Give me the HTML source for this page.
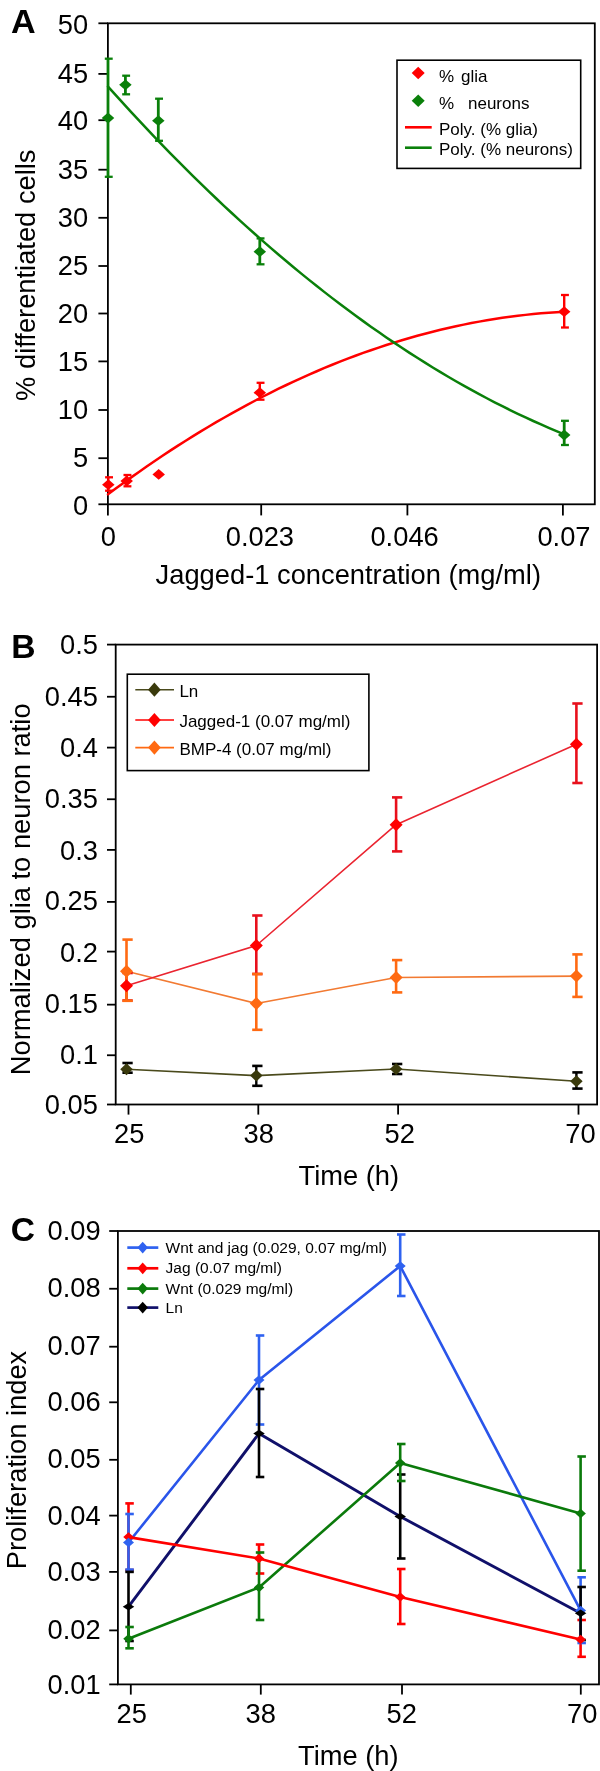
<!DOCTYPE html>
<html><head><meta charset="utf-8"><style>
html,body{margin:0;padding:0;background:#fff;}
body{width:600px;height:1771px;overflow:hidden;}
svg{display:block;will-change:transform;}
text{font-family:"Liberation Sans", sans-serif;}
</style></head><body>
<svg width="600" height="1771" viewBox="0 0 600 1771">
<rect width="600" height="1771" fill="#fff"/>
<rect x="107.9" y="23.3" width="486.9" height="481" fill="none" stroke="#000" stroke-width="1.8"/>
<line x1="98.4" y1="23.3" x2="107.9" y2="23.3" stroke="#000" stroke-width="1.8" stroke-linecap="butt"/>
<text x="88.2" y="34.1" font-size="27.3" text-anchor="end" font-weight="normal" fill="#000">50</text>
<line x1="98.4" y1="73.9" x2="107.9" y2="73.9" stroke="#000" stroke-width="1.8" stroke-linecap="butt"/>
<text x="88.2" y="82.85" font-size="27.3" text-anchor="end" font-weight="normal" fill="#000">45</text>
<line x1="98.4" y1="120.2" x2="107.9" y2="120.2" stroke="#000" stroke-width="1.8" stroke-linecap="butt"/>
<text x="88.2" y="130" font-size="27.3" text-anchor="end" font-weight="normal" fill="#000">40</text>
<line x1="98.4" y1="169.7" x2="107.9" y2="169.7" stroke="#000" stroke-width="1.8" stroke-linecap="butt"/>
<text x="88.2" y="179.35" font-size="27.3" text-anchor="end" font-weight="normal" fill="#000">35</text>
<line x1="98.4" y1="217.8" x2="107.9" y2="217.8" stroke="#000" stroke-width="1.8" stroke-linecap="butt"/>
<text x="88.2" y="226.5" font-size="27.3" text-anchor="end" font-weight="normal" fill="#000">30</text>
<line x1="98.4" y1="266" x2="107.9" y2="266" stroke="#000" stroke-width="1.8" stroke-linecap="butt"/>
<text x="88.2" y="274.5" font-size="27.3" text-anchor="end" font-weight="normal" fill="#000">25</text>
<line x1="98.4" y1="313.5" x2="107.9" y2="313.5" stroke="#000" stroke-width="1.8" stroke-linecap="butt"/>
<text x="88.2" y="323.15" font-size="27.3" text-anchor="end" font-weight="normal" fill="#000">20</text>
<line x1="98.4" y1="361.4" x2="107.9" y2="361.4" stroke="#000" stroke-width="1.8" stroke-linecap="butt"/>
<text x="88.2" y="371" font-size="27.3" text-anchor="end" font-weight="normal" fill="#000">15</text>
<line x1="98.4" y1="410" x2="107.9" y2="410" stroke="#000" stroke-width="1.8" stroke-linecap="butt"/>
<text x="88.2" y="418.95" font-size="27.3" text-anchor="end" font-weight="normal" fill="#000">10</text>
<line x1="98.4" y1="458.2" x2="107.9" y2="458.2" stroke="#000" stroke-width="1.8" stroke-linecap="butt"/>
<text x="88.2" y="466.9" font-size="27.3" text-anchor="end" font-weight="normal" fill="#000">5</text>
<line x1="98.4" y1="504.3" x2="107.9" y2="504.3" stroke="#000" stroke-width="1.8" stroke-linecap="butt"/>
<text x="88.2" y="515.1" font-size="27.3" text-anchor="end" font-weight="normal" fill="#000">0</text>
<line x1="107.9" y1="504.3" x2="107.9" y2="515.4" stroke="#000" stroke-width="1.8" stroke-linecap="butt"/>
<text x="108.4" y="545.6" font-size="27.3" text-anchor="middle" font-weight="normal" fill="#000">0</text>
<line x1="261.2" y1="504.3" x2="261.2" y2="515.4" stroke="#000" stroke-width="1.8" stroke-linecap="butt"/>
<text x="259.9" y="545.6" font-size="27.3" text-anchor="middle" font-weight="normal" fill="#000">0.023</text>
<line x1="407.4" y1="504.3" x2="407.4" y2="515.4" stroke="#000" stroke-width="1.8" stroke-linecap="butt"/>
<text x="404.6" y="545.6" font-size="27.3" text-anchor="middle" font-weight="normal" fill="#000">0.046</text>
<line x1="562.9" y1="504.3" x2="562.9" y2="515.4" stroke="#000" stroke-width="1.8" stroke-linecap="butt"/>
<text x="564" y="545.6" font-size="27.3" text-anchor="middle" font-weight="normal" fill="#000">0.07</text>
<text x="348.3" y="584.2" font-size="27.3" text-anchor="middle" font-weight="normal" fill="#000">Jagged-1 concentration (mg/ml)</text>
<text x="35.2" y="275.2" font-size="27.3" text-anchor="middle" font-weight="normal" fill="#000" transform="rotate(-90 35.2 275.2)">% differentiated cells</text>
<text x="0" y="0" font-size="33.5" text-anchor="start" font-weight="bold" fill="#000" transform="translate(11 33) scale(1.02 1)">A</text>
<line x1="108" y1="58.7" x2="108" y2="176.8" stroke="#0a800a" stroke-width="2.8" stroke-linecap="butt"/>
<line x1="104.8" y1="58.7" x2="112.7" y2="58.7" stroke="#0a800a" stroke-width="2.3" stroke-linecap="butt"/>
<line x1="104.8" y1="176.8" x2="112.7" y2="176.8" stroke="#0a800a" stroke-width="2.3" stroke-linecap="butt"/>
<line x1="125.4" y1="75.7" x2="125.4" y2="94.3" stroke="#0a800a" stroke-width="2.8" stroke-linecap="butt"/>
<line x1="122.2" y1="75.7" x2="130.1" y2="75.7" stroke="#0a800a" stroke-width="2.3" stroke-linecap="butt"/>
<line x1="122.2" y1="94.3" x2="130.1" y2="94.3" stroke="#0a800a" stroke-width="2.3" stroke-linecap="butt"/>
<line x1="158.3" y1="98.7" x2="158.3" y2="140.8" stroke="#0a800a" stroke-width="2.8" stroke-linecap="butt"/>
<line x1="155.1" y1="98.7" x2="163" y2="98.7" stroke="#0a800a" stroke-width="2.3" stroke-linecap="butt"/>
<line x1="155.1" y1="140.8" x2="163" y2="140.8" stroke="#0a800a" stroke-width="2.3" stroke-linecap="butt"/>
<line x1="259.8" y1="238.4" x2="259.8" y2="264.3" stroke="#0a800a" stroke-width="2.8" stroke-linecap="butt"/>
<line x1="256.6" y1="238.4" x2="264.5" y2="238.4" stroke="#0a800a" stroke-width="2.3" stroke-linecap="butt"/>
<line x1="256.6" y1="264.3" x2="264.5" y2="264.3" stroke="#0a800a" stroke-width="2.3" stroke-linecap="butt"/>
<line x1="564.2" y1="420.8" x2="564.2" y2="445" stroke="#0a800a" stroke-width="2.8" stroke-linecap="butt"/>
<line x1="561" y1="420.8" x2="568.9" y2="420.8" stroke="#0a800a" stroke-width="2.3" stroke-linecap="butt"/>
<line x1="561" y1="445" x2="568.9" y2="445" stroke="#0a800a" stroke-width="2.3" stroke-linecap="butt"/>
<line x1="108.3" y1="477.3" x2="108.3" y2="490.7" stroke="#ff0000" stroke-width="2.4" stroke-linecap="butt"/>
<line x1="105.1" y1="477.3" x2="113" y2="477.3" stroke="#ff0000" stroke-width="2.3" stroke-linecap="butt"/>
<line x1="105.1" y1="490.7" x2="113" y2="490.7" stroke="#ff0000" stroke-width="2.3" stroke-linecap="butt"/>
<line x1="126.7" y1="475" x2="126.7" y2="486.3" stroke="#ff0000" stroke-width="2.4" stroke-linecap="butt"/>
<line x1="123.5" y1="475" x2="131.4" y2="475" stroke="#ff0000" stroke-width="2.3" stroke-linecap="butt"/>
<line x1="123.5" y1="486.3" x2="131.4" y2="486.3" stroke="#ff0000" stroke-width="2.3" stroke-linecap="butt"/>
<line x1="259.8" y1="382.8" x2="259.8" y2="399.7" stroke="#ff0000" stroke-width="2.4" stroke-linecap="butt"/>
<line x1="256.6" y1="382.8" x2="264.5" y2="382.8" stroke="#ff0000" stroke-width="2.3" stroke-linecap="butt"/>
<line x1="256.6" y1="399.7" x2="264.5" y2="399.7" stroke="#ff0000" stroke-width="2.3" stroke-linecap="butt"/>
<line x1="564.2" y1="295" x2="564.2" y2="327.5" stroke="#ff0000" stroke-width="2.4" stroke-linecap="butt"/>
<line x1="561" y1="295" x2="568.9" y2="295" stroke="#ff0000" stroke-width="2.3" stroke-linecap="butt"/>
<line x1="561" y1="327.5" x2="568.9" y2="327.5" stroke="#ff0000" stroke-width="2.3" stroke-linecap="butt"/>
<polyline points="108,494.35 115.73,488.6 123.46,482.94 131.2,477.38 138.93,471.9 146.66,466.52 154.39,461.22 162.13,456.02 169.86,450.91 177.59,445.89 185.32,440.97 193.05,436.13 200.79,431.39 208.52,426.74 216.25,422.18 223.98,417.71 231.72,413.33 239.45,409.04 247.18,404.85 254.91,400.75 262.64,396.74 270.38,392.82 278.11,388.99 285.84,385.25 293.57,381.61 301.31,378.06 309.04,374.6 316.77,371.23 324.5,367.95 332.23,364.76 339.97,361.67 347.7,358.67 355.43,355.75 363.16,352.93 370.89,350.21 378.63,347.57 386.36,345.02 394.09,342.57 401.82,340.21 409.56,337.94 417.29,335.76 425.02,333.67 432.75,331.68 440.48,329.77 448.22,327.96 455.95,326.24 463.68,324.61 471.41,323.08 479.15,321.63 486.88,320.28 494.61,319.01 502.34,317.84 510.07,316.76 517.81,315.78 525.54,314.88 533.27,314.07 541,313.36 548.74,312.74 556.47,312.21 564.2,311.77" fill="none" stroke="#ff0000" stroke-width="2.5" stroke-linejoin="round" stroke-linecap="round"/>
<polyline points="108,86.58 115.73,95.18 123.46,103.69 131.2,112.1 138.93,120.43 146.66,128.65 154.39,136.79 162.13,144.83 169.86,152.78 177.59,160.63 185.32,168.4 193.05,176.06 200.79,183.64 208.52,191.12 216.25,198.51 223.98,205.8 231.72,213 239.45,220.11 247.18,227.13 254.91,234.05 262.64,240.87 270.38,247.61 278.11,254.25 285.84,260.8 293.57,267.25 301.31,273.61 309.04,279.88 316.77,286.05 324.5,292.13 332.23,298.12 339.97,304.01 347.7,309.81 355.43,315.52 363.16,321.13 370.89,326.65 378.63,332.08 386.36,337.41 394.09,342.65 401.82,347.8 409.56,352.85 417.29,357.81 425.02,362.68 432.75,367.45 440.48,372.13 448.22,376.72 455.95,381.21 463.68,385.61 471.41,389.92 479.15,394.13 486.88,398.25 494.61,402.27 502.34,406.21 510.07,410.04 517.81,413.79 525.54,417.44 533.27,421 541,424.47 548.74,427.84 556.47,431.12 564.2,434.3" fill="none" stroke="#0a800a" stroke-width="2.5" stroke-linejoin="round" stroke-linecap="round"/>
<polygon points="108,112.6 114.25,118 108,123.4 101.75,118" fill="#0a800a"/>
<polygon points="125.4,79.4 131.65,84.8 125.4,90.2 119.15,84.8" fill="#0a800a"/>
<polygon points="158.3,115.3 164.55,120.7 158.3,126.1 152.05,120.7" fill="#0a800a"/>
<polygon points="259.8,246.3 266.05,251.7 259.8,257.1 253.55,251.7" fill="#0a800a"/>
<polygon points="564.2,429.6 570.45,435 564.2,440.4 557.95,435" fill="#0a800a"/>
<polygon points="108.3,479.3 114.55,484.7 108.3,490.1 102.05,484.7" fill="#ff0000"/>
<polygon points="126.7,475.6 132.95,481 126.7,486.4 120.45,481" fill="#ff0000"/>
<polygon points="158.7,469 164.95,474.4 158.7,479.8 152.45,474.4" fill="#ff0000"/>
<polygon points="259.8,387.3 266.05,392.7 259.8,398.1 253.55,392.7" fill="#ff0000"/>
<polygon points="564.2,306.3 570.45,311.7 564.2,317.1 557.95,311.7" fill="#ff0000"/>
<rect x="397" y="60.2" width="183.7" height="108.2" fill="#fff" stroke="#000" stroke-width="1.6"/>
<polygon points="418.2,66.75 424.7,73 418.2,79.25 411.7,73" fill="#ff0000"/>
<polygon points="418.2,94.55 424.7,100.8 418.2,107.05 411.7,100.8" fill="#0a800a"/>
<text x="439" y="81.6" font-size="17" text-anchor="start" font-weight="normal" fill="#000">%</text>
<text x="461" y="81.6" font-size="17" text-anchor="start" font-weight="normal" fill="#000">glia</text>
<text x="439" y="109.2" font-size="17" text-anchor="start" font-weight="normal" fill="#000">%</text>
<text x="468" y="109.2" font-size="17" text-anchor="start" font-weight="normal" fill="#000">neurons</text>
<line x1="405" y1="127.3" x2="431.7" y2="127.3" stroke="#ff0000" stroke-width="2.6" stroke-linecap="butt"/>
<line x1="405" y1="147.7" x2="431.7" y2="147.7" stroke="#0a800a" stroke-width="2.6" stroke-linecap="butt"/>
<text x="439" y="135" font-size="17" text-anchor="start" font-weight="normal" fill="#000">Poly. (% glia)</text>
<text x="439" y="155.2" font-size="17" text-anchor="start" font-weight="normal" fill="#000">Poly. (% neurons)</text>
<rect x="115.7" y="644.6" width="481.4" height="459.9" fill="none" stroke="#000" stroke-width="1.8"/>
<line x1="107" y1="644.6" x2="115.7" y2="644.6" stroke="#000" stroke-width="1.8" stroke-linecap="butt"/>
<text x="98" y="653.8" font-size="27.3" text-anchor="end" font-weight="normal" fill="#000">0.5</text>
<line x1="107" y1="696.75" x2="115.7" y2="696.75" stroke="#000" stroke-width="1.8" stroke-linecap="butt"/>
<text x="98" y="705.6" font-size="27.3" text-anchor="end" font-weight="normal" fill="#000">0.45</text>
<line x1="107" y1="747.6" x2="115.7" y2="747.6" stroke="#000" stroke-width="1.8" stroke-linecap="butt"/>
<text x="98" y="756.7" font-size="27.3" text-anchor="end" font-weight="normal" fill="#000">0.4</text>
<line x1="107" y1="799.25" x2="115.7" y2="799.25" stroke="#000" stroke-width="1.8" stroke-linecap="butt"/>
<text x="98" y="807.5" font-size="27.3" text-anchor="end" font-weight="normal" fill="#000">0.35</text>
<line x1="107" y1="849.9" x2="115.7" y2="849.9" stroke="#000" stroke-width="1.8" stroke-linecap="butt"/>
<text x="98" y="860" font-size="27.3" text-anchor="end" font-weight="normal" fill="#000">0.3</text>
<line x1="107" y1="901.9" x2="115.7" y2="901.9" stroke="#000" stroke-width="1.8" stroke-linecap="butt"/>
<text x="98" y="909.9" font-size="27.3" text-anchor="end" font-weight="normal" fill="#000">0.25</text>
<line x1="107" y1="951.6" x2="115.7" y2="951.6" stroke="#000" stroke-width="1.8" stroke-linecap="butt"/>
<text x="98" y="961.7" font-size="27.3" text-anchor="end" font-weight="normal" fill="#000">0.2</text>
<line x1="107" y1="1004.65" x2="115.7" y2="1004.65" stroke="#000" stroke-width="1.8" stroke-linecap="butt"/>
<text x="98" y="1012.5" font-size="27.3" text-anchor="end" font-weight="normal" fill="#000">0.15</text>
<line x1="107" y1="1055.25" x2="115.7" y2="1055.25" stroke="#000" stroke-width="1.8" stroke-linecap="butt"/>
<text x="98" y="1064.1" font-size="27.3" text-anchor="end" font-weight="normal" fill="#000">0.1</text>
<line x1="107" y1="1104.5" x2="115.7" y2="1104.5" stroke="#000" stroke-width="1.8" stroke-linecap="butt"/>
<text x="98" y="1113.5" font-size="27.3" text-anchor="end" font-weight="normal" fill="#000">0.05</text>
<line x1="128.5" y1="1104.5" x2="128.5" y2="1114.6" stroke="#000" stroke-width="1.8" stroke-linecap="butt"/>
<text x="129.2" y="1143.3" font-size="27.3" text-anchor="middle" font-weight="normal" fill="#000">25</text>
<line x1="258.3" y1="1104.5" x2="258.3" y2="1114.6" stroke="#000" stroke-width="1.8" stroke-linecap="butt"/>
<text x="258.7" y="1143.3" font-size="27.3" text-anchor="middle" font-weight="normal" fill="#000">38</text>
<line x1="398.1" y1="1104.5" x2="398.1" y2="1114.6" stroke="#000" stroke-width="1.8" stroke-linecap="butt"/>
<text x="399.7" y="1143.3" font-size="27.3" text-anchor="middle" font-weight="normal" fill="#000">52</text>
<line x1="578.5" y1="1104.5" x2="578.5" y2="1114.6" stroke="#000" stroke-width="1.8" stroke-linecap="butt"/>
<text x="580.4" y="1143.3" font-size="27.3" text-anchor="middle" font-weight="normal" fill="#000">70</text>
<text x="348.8" y="1184.5" font-size="27.3" text-anchor="middle" font-weight="normal" fill="#000">Time (h)</text>
<text x="29.6" y="889.3" font-size="27.3" text-anchor="middle" font-weight="normal" fill="#000" transform="rotate(-90 29.6 889.3)">Normalized glia to neuron ratio</text>
<text x="0" y="0" font-size="33.0" text-anchor="start" font-weight="bold" fill="#000" transform="translate(11.3 657.6) scale(1.02 1)">B</text>
<polyline points="126.5,1069.3 256.3,1075.6 396.1,1069 576.4,1081.3" fill="none" stroke="#4a4a1c" stroke-width="1.6" stroke-linejoin="round" stroke-linecap="round"/>
<polyline points="126.5,971.3 256.3,1003.5 396.1,977.5 576.4,976.1" fill="none" stroke="#f27a32" stroke-width="1.6" stroke-linejoin="round" stroke-linecap="round"/>
<polyline points="126.5,985.8 256.3,945.5 396.1,824.7 576.4,744.2" fill="none" stroke="#ea2430" stroke-width="1.6" stroke-linejoin="round" stroke-linecap="round"/>
<line x1="126.5" y1="1063" x2="126.5" y2="1072.7" stroke="#000" stroke-width="2.4" stroke-linecap="butt"/>
<line x1="122.4" y1="1063" x2="132.7" y2="1063" stroke="#000" stroke-width="2.6" stroke-linecap="butt"/>
<line x1="122.4" y1="1072.7" x2="132.7" y2="1072.7" stroke="#000" stroke-width="2.6" stroke-linecap="butt"/>
<line x1="256.3" y1="1065.9" x2="256.3" y2="1085.8" stroke="#000" stroke-width="2.4" stroke-linecap="butt"/>
<line x1="252.2" y1="1065.9" x2="262.5" y2="1065.9" stroke="#000" stroke-width="2.6" stroke-linecap="butt"/>
<line x1="252.2" y1="1085.8" x2="262.5" y2="1085.8" stroke="#000" stroke-width="2.6" stroke-linecap="butt"/>
<line x1="396.1" y1="1064" x2="396.1" y2="1074" stroke="#000" stroke-width="2.4" stroke-linecap="butt"/>
<line x1="392" y1="1064" x2="402.3" y2="1064" stroke="#000" stroke-width="2.6" stroke-linecap="butt"/>
<line x1="392" y1="1074" x2="402.3" y2="1074" stroke="#000" stroke-width="2.6" stroke-linecap="butt"/>
<line x1="576.4" y1="1072.4" x2="576.4" y2="1088.6" stroke="#000" stroke-width="2.4" stroke-linecap="butt"/>
<line x1="572.3" y1="1072.4" x2="582.6" y2="1072.4" stroke="#000" stroke-width="2.6" stroke-linecap="butt"/>
<line x1="572.3" y1="1088.6" x2="582.6" y2="1088.6" stroke="#000" stroke-width="2.6" stroke-linecap="butt"/>
<line x1="126.5" y1="973" x2="126.5" y2="1000.5" stroke="#e8101c" stroke-width="2.6" stroke-linecap="butt"/>
<line x1="122.4" y1="973" x2="132.7" y2="973" stroke="#e8101c" stroke-width="2.6" stroke-linecap="butt"/>
<line x1="122.4" y1="1000.5" x2="132.7" y2="1000.5" stroke="#e8101c" stroke-width="2.6" stroke-linecap="butt"/>
<line x1="256.3" y1="915.5" x2="256.3" y2="974" stroke="#e8101c" stroke-width="2.6" stroke-linecap="butt"/>
<line x1="252.2" y1="915.5" x2="262.5" y2="915.5" stroke="#e8101c" stroke-width="2.6" stroke-linecap="butt"/>
<line x1="252.2" y1="974" x2="262.5" y2="974" stroke="#e8101c" stroke-width="2.6" stroke-linecap="butt"/>
<line x1="396.1" y1="797.4" x2="396.1" y2="851.4" stroke="#e8101c" stroke-width="2.6" stroke-linecap="butt"/>
<line x1="392" y1="797.4" x2="402.3" y2="797.4" stroke="#e8101c" stroke-width="2.6" stroke-linecap="butt"/>
<line x1="392" y1="851.4" x2="402.3" y2="851.4" stroke="#e8101c" stroke-width="2.6" stroke-linecap="butt"/>
<line x1="576.4" y1="703.5" x2="576.4" y2="783" stroke="#e8101c" stroke-width="2.6" stroke-linecap="butt"/>
<line x1="572.3" y1="703.5" x2="582.6" y2="703.5" stroke="#e8101c" stroke-width="2.6" stroke-linecap="butt"/>
<line x1="572.3" y1="783" x2="582.6" y2="783" stroke="#e8101c" stroke-width="2.6" stroke-linecap="butt"/>
<line x1="126.5" y1="939.6" x2="126.5" y2="1000.8" stroke="#ff6a12" stroke-width="2.6" stroke-linecap="butt"/>
<line x1="122.4" y1="939.6" x2="132.7" y2="939.6" stroke="#ff6a12" stroke-width="2.6" stroke-linecap="butt"/>
<line x1="122.4" y1="1000.8" x2="132.7" y2="1000.8" stroke="#ff6a12" stroke-width="2.6" stroke-linecap="butt"/>
<line x1="256.3" y1="974" x2="256.3" y2="1029.8" stroke="#ff6a12" stroke-width="2.6" stroke-linecap="butt"/>
<line x1="252.2" y1="974" x2="262.5" y2="974" stroke="#ff6a12" stroke-width="2.6" stroke-linecap="butt"/>
<line x1="252.2" y1="1029.8" x2="262.5" y2="1029.8" stroke="#ff6a12" stroke-width="2.6" stroke-linecap="butt"/>
<line x1="396.1" y1="960.1" x2="396.1" y2="992.4" stroke="#ff6a12" stroke-width="2.6" stroke-linecap="butt"/>
<line x1="392" y1="960.1" x2="402.3" y2="960.1" stroke="#ff6a12" stroke-width="2.6" stroke-linecap="butt"/>
<line x1="392" y1="992.4" x2="402.3" y2="992.4" stroke="#ff6a12" stroke-width="2.6" stroke-linecap="butt"/>
<line x1="576.4" y1="954.4" x2="576.4" y2="996.9" stroke="#ff6a12" stroke-width="2.6" stroke-linecap="butt"/>
<line x1="572.3" y1="954.4" x2="582.6" y2="954.4" stroke="#ff6a12" stroke-width="2.6" stroke-linecap="butt"/>
<line x1="572.3" y1="996.9" x2="582.6" y2="996.9" stroke="#ff6a12" stroke-width="2.6" stroke-linecap="butt"/>
<polygon points="126.5,1063.3 132.75,1069.3 126.5,1075.3 120.25,1069.3" fill="#3a3a0c"/>
<polygon points="126.5,964.8 133,971.3 126.5,977.8 120,971.3" fill="#ff6a12"/>
<polygon points="126.5,979.3 133,985.8 126.5,992.3 120,985.8" fill="#ff0000"/>
<polygon points="256.3,1069.6 262.55,1075.6 256.3,1081.6 250.05,1075.6" fill="#3a3a0c"/>
<polygon points="256.3,997 262.8,1003.5 256.3,1010 249.8,1003.5" fill="#ff6a12"/>
<polygon points="256.3,939 262.8,945.5 256.3,952 249.8,945.5" fill="#ff0000"/>
<polygon points="396.1,1063 402.35,1069 396.1,1075 389.85,1069" fill="#3a3a0c"/>
<polygon points="396.1,971 402.6,977.5 396.1,984 389.6,977.5" fill="#ff6a12"/>
<polygon points="396.1,818.2 402.6,824.7 396.1,831.2 389.6,824.7" fill="#ff0000"/>
<polygon points="576.4,1075.3 582.65,1081.3 576.4,1087.3 570.15,1081.3" fill="#3a3a0c"/>
<polygon points="576.4,969.6 582.9,976.1 576.4,982.6 569.9,976.1" fill="#ff6a12"/>
<polygon points="576.4,737.7 582.9,744.2 576.4,750.7 569.9,744.2" fill="#ff0000"/>
<rect x="127.3" y="674.2" width="241.6" height="96.4" fill="#fff" stroke="#000" stroke-width="1.6"/>
<line x1="135.3" y1="689.7" x2="174" y2="689.7" stroke="#4a4a1c" stroke-width="1.6" stroke-linecap="butt"/>
<polygon points="154.4,682.6 160.75,689.7 154.4,696.8 148.05,689.7" fill="#3a3a0c"/>
<text x="179.4" y="696.7" font-size="17" text-anchor="start" font-weight="normal" fill="#000">Ln</text>
<line x1="135.3" y1="720" x2="174" y2="720" stroke="#ff0000" stroke-width="1.6" stroke-linecap="butt"/>
<polygon points="154.4,712.9 160.75,720 154.4,727.1 148.05,720" fill="#ff0000"/>
<text x="179.4" y="727" font-size="17" text-anchor="start" font-weight="normal" fill="#000">Jagged-1 (0.07 mg/ml)</text>
<line x1="135.3" y1="747.6" x2="174" y2="747.6" stroke="#ff6a12" stroke-width="1.6" stroke-linecap="butt"/>
<polygon points="154.4,740.5 160.75,747.6 154.4,754.7 148.05,747.6" fill="#ff6a12"/>
<text x="179.4" y="754.6" font-size="17" text-anchor="start" font-weight="normal" fill="#000">BMP-4 (0.07 mg/ml)</text>
<rect x="117.9" y="1231.0" width="481.1" height="453.4" fill="none" stroke="#000" stroke-width="1.8"/>
<line x1="109.2" y1="1231" x2="117.9" y2="1231" stroke="#000" stroke-width="1.8" stroke-linecap="butt"/>
<text x="100.6" y="1240.1" font-size="27.3" text-anchor="end" font-weight="normal" fill="#000">0.09</text>
<line x1="109.2" y1="1288.75" x2="117.9" y2="1288.75" stroke="#000" stroke-width="1.8" stroke-linecap="butt"/>
<text x="100.6" y="1297.3" font-size="27.3" text-anchor="end" font-weight="normal" fill="#000">0.08</text>
<line x1="109.2" y1="1346.7" x2="117.9" y2="1346.7" stroke="#000" stroke-width="1.8" stroke-linecap="butt"/>
<text x="100.6" y="1354.7" font-size="27.3" text-anchor="end" font-weight="normal" fill="#000">0.07</text>
<line x1="109.2" y1="1402.3" x2="117.9" y2="1402.3" stroke="#000" stroke-width="1.8" stroke-linecap="butt"/>
<text x="100.6" y="1410.6" font-size="27.3" text-anchor="end" font-weight="normal" fill="#000">0.06</text>
<line x1="109.2" y1="1459.8" x2="117.9" y2="1459.8" stroke="#000" stroke-width="1.8" stroke-linecap="butt"/>
<text x="100.6" y="1468.1" font-size="27.3" text-anchor="end" font-weight="normal" fill="#000">0.05</text>
<line x1="109.2" y1="1515.6" x2="117.9" y2="1515.6" stroke="#000" stroke-width="1.8" stroke-linecap="butt"/>
<text x="100.6" y="1525.1" font-size="27.3" text-anchor="end" font-weight="normal" fill="#000">0.04</text>
<line x1="109.2" y1="1571.9" x2="117.9" y2="1571.9" stroke="#000" stroke-width="1.8" stroke-linecap="butt"/>
<text x="100.6" y="1581.1" font-size="27.3" text-anchor="end" font-weight="normal" fill="#000">0.03</text>
<line x1="109.2" y1="1630.4" x2="117.9" y2="1630.4" stroke="#000" stroke-width="1.8" stroke-linecap="butt"/>
<text x="100.6" y="1638.6" font-size="27.3" text-anchor="end" font-weight="normal" fill="#000">0.02</text>
<line x1="109.2" y1="1684.4" x2="117.9" y2="1684.4" stroke="#000" stroke-width="1.8" stroke-linecap="butt"/>
<text x="100.6" y="1694.3" font-size="27.3" text-anchor="end" font-weight="normal" fill="#000">0.01</text>
<line x1="130.8" y1="1684.4" x2="130.8" y2="1694.6" stroke="#000" stroke-width="1.8" stroke-linecap="butt"/>
<text x="131.7" y="1723" font-size="27.3" text-anchor="middle" font-weight="normal" fill="#000">25</text>
<line x1="260.8" y1="1684.4" x2="260.8" y2="1694.6" stroke="#000" stroke-width="1.8" stroke-linecap="butt"/>
<text x="260.8" y="1723" font-size="27.3" text-anchor="middle" font-weight="normal" fill="#000">38</text>
<line x1="402" y1="1684.4" x2="402" y2="1694.6" stroke="#000" stroke-width="1.8" stroke-linecap="butt"/>
<text x="401.7" y="1723" font-size="27.3" text-anchor="middle" font-weight="normal" fill="#000">52</text>
<line x1="580.8" y1="1684.4" x2="580.8" y2="1694.6" stroke="#000" stroke-width="1.8" stroke-linecap="butt"/>
<text x="582.2" y="1723" font-size="27.3" text-anchor="middle" font-weight="normal" fill="#000">70</text>
<text x="348.3" y="1764.5" font-size="27.3" text-anchor="middle" font-weight="normal" fill="#000">Time (h)</text>
<text x="25.5" y="1460" font-size="27.3" text-anchor="middle" font-weight="normal" fill="#000" transform="rotate(-90 25.5 1460)">Proliferation index</text>
<text x="0" y="0" font-size="33.5" text-anchor="start" font-weight="bold" fill="#000" transform="translate(10.8 1240.8) scale(1.0 1)">C</text>
<polyline points="128.5,1542.5 259,1380 400.2,1266 580.6,1610.4" fill="none" stroke="#2a55ea" stroke-width="2.6" stroke-linejoin="round" stroke-linecap="round"/>
<polyline points="128.5,1606.7 259,1433.5 400.2,1516.5 580.6,1613.3" fill="none" stroke="#10106a" stroke-width="2.9" stroke-linejoin="round" stroke-linecap="round"/>
<polyline points="128.5,1638.8 259,1587.5 400.2,1463 580.6,1513.4" fill="none" stroke="#0b7a0b" stroke-width="2.6" stroke-linejoin="round" stroke-linecap="round"/>
<polyline points="128.5,1537.1 259,1558.5 400.2,1597 580.6,1639.5" fill="none" stroke="#ff0000" stroke-width="2.6" stroke-linejoin="round" stroke-linecap="round"/>
<line x1="128.5" y1="1503.4" x2="128.5" y2="1570" stroke="#ff0000" stroke-width="2.6" stroke-linecap="butt"/>
<line x1="125.3" y1="1503.4" x2="133.8" y2="1503.4" stroke="#ff0000" stroke-width="2.6" stroke-linecap="butt"/>
<line x1="125.3" y1="1570" x2="133.8" y2="1570" stroke="#ff0000" stroke-width="2.6" stroke-linecap="butt"/>
<line x1="259" y1="1544.5" x2="259" y2="1573.5" stroke="#ff0000" stroke-width="2.6" stroke-linecap="butt"/>
<line x1="255.8" y1="1544.5" x2="264.3" y2="1544.5" stroke="#ff0000" stroke-width="2.6" stroke-linecap="butt"/>
<line x1="255.8" y1="1573.5" x2="264.3" y2="1573.5" stroke="#ff0000" stroke-width="2.6" stroke-linecap="butt"/>
<line x1="400.2" y1="1569" x2="400.2" y2="1624" stroke="#ff0000" stroke-width="2.6" stroke-linecap="butt"/>
<line x1="397" y1="1569" x2="405.5" y2="1569" stroke="#ff0000" stroke-width="2.6" stroke-linecap="butt"/>
<line x1="397" y1="1624" x2="405.5" y2="1624" stroke="#ff0000" stroke-width="2.6" stroke-linecap="butt"/>
<line x1="580.6" y1="1620" x2="580.6" y2="1656.8" stroke="#ff0000" stroke-width="2.6" stroke-linecap="butt"/>
<line x1="577.4" y1="1620" x2="585.9" y2="1620" stroke="#ff0000" stroke-width="2.6" stroke-linecap="butt"/>
<line x1="577.4" y1="1656.8" x2="585.9" y2="1656.8" stroke="#ff0000" stroke-width="2.6" stroke-linecap="butt"/>
<line x1="128.5" y1="1514" x2="128.5" y2="1569.6" stroke="#2f62f0" stroke-width="2.6" stroke-linecap="butt"/>
<line x1="125.3" y1="1514" x2="133.8" y2="1514" stroke="#2f62f0" stroke-width="2.6" stroke-linecap="butt"/>
<line x1="125.3" y1="1569.6" x2="133.8" y2="1569.6" stroke="#2f62f0" stroke-width="2.6" stroke-linecap="butt"/>
<line x1="259" y1="1335.5" x2="259" y2="1424.5" stroke="#2f62f0" stroke-width="2.6" stroke-linecap="butt"/>
<line x1="255.8" y1="1335.5" x2="264.3" y2="1335.5" stroke="#2f62f0" stroke-width="2.6" stroke-linecap="butt"/>
<line x1="255.8" y1="1424.5" x2="264.3" y2="1424.5" stroke="#2f62f0" stroke-width="2.6" stroke-linecap="butt"/>
<line x1="400.2" y1="1234.5" x2="400.2" y2="1296" stroke="#2f62f0" stroke-width="2.6" stroke-linecap="butt"/>
<line x1="397" y1="1234.5" x2="405.5" y2="1234.5" stroke="#2f62f0" stroke-width="2.6" stroke-linecap="butt"/>
<line x1="397" y1="1296" x2="405.5" y2="1296" stroke="#2f62f0" stroke-width="2.6" stroke-linecap="butt"/>
<line x1="580.6" y1="1577.3" x2="580.6" y2="1643" stroke="#2f62f0" stroke-width="2.6" stroke-linecap="butt"/>
<line x1="577.4" y1="1577.3" x2="585.9" y2="1577.3" stroke="#2f62f0" stroke-width="2.6" stroke-linecap="butt"/>
<line x1="577.4" y1="1643" x2="585.9" y2="1643" stroke="#2f62f0" stroke-width="2.6" stroke-linecap="butt"/>
<line x1="128.5" y1="1571.9" x2="128.5" y2="1641" stroke="#000" stroke-width="2.6" stroke-linecap="butt"/>
<line x1="125.3" y1="1571.9" x2="133.8" y2="1571.9" stroke="#000" stroke-width="2.6" stroke-linecap="butt"/>
<line x1="125.3" y1="1641" x2="133.8" y2="1641" stroke="#000" stroke-width="2.6" stroke-linecap="butt"/>
<line x1="259" y1="1389" x2="259" y2="1477" stroke="#000" stroke-width="2.6" stroke-linecap="butt"/>
<line x1="255.8" y1="1389" x2="264.3" y2="1389" stroke="#000" stroke-width="2.6" stroke-linecap="butt"/>
<line x1="255.8" y1="1477" x2="264.3" y2="1477" stroke="#000" stroke-width="2.6" stroke-linecap="butt"/>
<line x1="400.2" y1="1474.5" x2="400.2" y2="1558.5" stroke="#000" stroke-width="2.6" stroke-linecap="butt"/>
<line x1="397" y1="1474.5" x2="405.5" y2="1474.5" stroke="#000" stroke-width="2.6" stroke-linecap="butt"/>
<line x1="397" y1="1558.5" x2="405.5" y2="1558.5" stroke="#000" stroke-width="2.6" stroke-linecap="butt"/>
<line x1="580.6" y1="1587" x2="580.6" y2="1640" stroke="#000" stroke-width="2.6" stroke-linecap="butt"/>
<line x1="577.4" y1="1587" x2="585.9" y2="1587" stroke="#000" stroke-width="2.6" stroke-linecap="butt"/>
<line x1="577.4" y1="1640" x2="585.9" y2="1640" stroke="#000" stroke-width="2.6" stroke-linecap="butt"/>
<line x1="128.5" y1="1627" x2="128.5" y2="1648.3" stroke="#0b7a0b" stroke-width="2.6" stroke-linecap="butt"/>
<line x1="125.3" y1="1627" x2="133.8" y2="1627" stroke="#0b7a0b" stroke-width="2.6" stroke-linecap="butt"/>
<line x1="125.3" y1="1648.3" x2="133.8" y2="1648.3" stroke="#0b7a0b" stroke-width="2.6" stroke-linecap="butt"/>
<line x1="259" y1="1552.5" x2="259" y2="1620" stroke="#0b7a0b" stroke-width="2.6" stroke-linecap="butt"/>
<line x1="255.8" y1="1552.5" x2="264.3" y2="1552.5" stroke="#0b7a0b" stroke-width="2.6" stroke-linecap="butt"/>
<line x1="255.8" y1="1620" x2="264.3" y2="1620" stroke="#0b7a0b" stroke-width="2.6" stroke-linecap="butt"/>
<line x1="400.2" y1="1444" x2="400.2" y2="1481" stroke="#0b7a0b" stroke-width="2.6" stroke-linecap="butt"/>
<line x1="397" y1="1444" x2="405.5" y2="1444" stroke="#0b7a0b" stroke-width="2.6" stroke-linecap="butt"/>
<line x1="397" y1="1481" x2="405.5" y2="1481" stroke="#0b7a0b" stroke-width="2.6" stroke-linecap="butt"/>
<line x1="580.6" y1="1456.5" x2="580.6" y2="1570.7" stroke="#0b7a0b" stroke-width="2.6" stroke-linecap="butt"/>
<line x1="577.4" y1="1456.5" x2="585.9" y2="1456.5" stroke="#0b7a0b" stroke-width="2.6" stroke-linecap="butt"/>
<line x1="577.4" y1="1570.7" x2="585.9" y2="1570.7" stroke="#0b7a0b" stroke-width="2.6" stroke-linecap="butt"/>
<polygon points="128.5,1532.35 133.75,1537.1 128.5,1541.85 123.25,1537.1" fill="#ff0000"/>
<polygon points="128.5,1537.75 134,1542.5 128.5,1547.25 123,1542.5" fill="#2f62f0"/>
<polygon points="128.5,1634.05 133.75,1638.8 128.5,1643.55 123.25,1638.8" fill="#0b7a0b"/>
<polygon points="128.5,1602.95 134.25,1606.7 128.5,1610.45 122.75,1606.7" fill="#000"/>
<polygon points="259,1553.75 264.25,1558.5 259,1563.25 253.75,1558.5" fill="#ff0000"/>
<polygon points="259,1375.25 264.5,1380 259,1384.75 253.5,1380" fill="#2f62f0"/>
<polygon points="259,1582.75 264.25,1587.5 259,1592.25 253.75,1587.5" fill="#0b7a0b"/>
<polygon points="259,1429.75 264.75,1433.5 259,1437.25 253.25,1433.5" fill="#000"/>
<polygon points="400.2,1592.25 405.45,1597 400.2,1601.75 394.95,1597" fill="#ff0000"/>
<polygon points="400.2,1261.25 405.7,1266 400.2,1270.75 394.7,1266" fill="#2f62f0"/>
<polygon points="400.2,1458.25 405.45,1463 400.2,1467.75 394.95,1463" fill="#0b7a0b"/>
<polygon points="400.2,1512.75 405.95,1516.5 400.2,1520.25 394.45,1516.5" fill="#000"/>
<polygon points="580.6,1634.75 585.85,1639.5 580.6,1644.25 575.35,1639.5" fill="#ff0000"/>
<polygon points="580.6,1605.65 586.1,1610.4 580.6,1615.15 575.1,1610.4" fill="#2f62f0"/>
<polygon points="580.6,1508.65 585.85,1513.4 580.6,1518.15 575.35,1513.4" fill="#0b7a0b"/>
<polygon points="580.6,1609.55 586.35,1613.3 580.6,1617.05 574.85,1613.3" fill="#000"/>
<line x1="127.3" y1="1247.6" x2="158.3" y2="1247.6" stroke="#2f62f0" stroke-width="2.7" stroke-linecap="butt"/>
<polygon points="142.7,1241.75 147.95,1247.6 142.7,1253.45 137.45,1247.6" fill="#2f62f0"/>
<text x="165.6" y="1252.6" font-size="15.5" text-anchor="start" font-weight="normal" fill="#000">Wnt and jag (0.029, 0.07 mg/ml)</text>
<line x1="127.3" y1="1268.3" x2="158.3" y2="1268.3" stroke="#ff0000" stroke-width="2.7" stroke-linecap="butt"/>
<polygon points="142.7,1262.45 147.95,1268.3 142.7,1274.15 137.45,1268.3" fill="#ff0000"/>
<text x="165.6" y="1273.3" font-size="15.5" text-anchor="start" font-weight="normal" fill="#000">Jag (0.07 mg/ml)</text>
<line x1="127.3" y1="1288.6" x2="158.3" y2="1288.6" stroke="#0b7a0b" stroke-width="2.7" stroke-linecap="butt"/>
<polygon points="142.7,1282.75 147.95,1288.6 142.7,1294.45 137.45,1288.6" fill="#0b7a0b"/>
<text x="165.6" y="1293.6" font-size="15.5" text-anchor="start" font-weight="normal" fill="#000">Wnt (0.029 mg/ml)</text>
<line x1="127.3" y1="1307.6" x2="158.3" y2="1307.6" stroke="#10106a" stroke-width="2.7" stroke-linecap="butt"/>
<polygon points="142.7,1301.75 147.95,1307.6 142.7,1313.45 137.45,1307.6" fill="#000"/>
<text x="165.6" y="1312.6" font-size="15.5" text-anchor="start" font-weight="normal" fill="#000">Ln</text>
</svg>
</body></html>
